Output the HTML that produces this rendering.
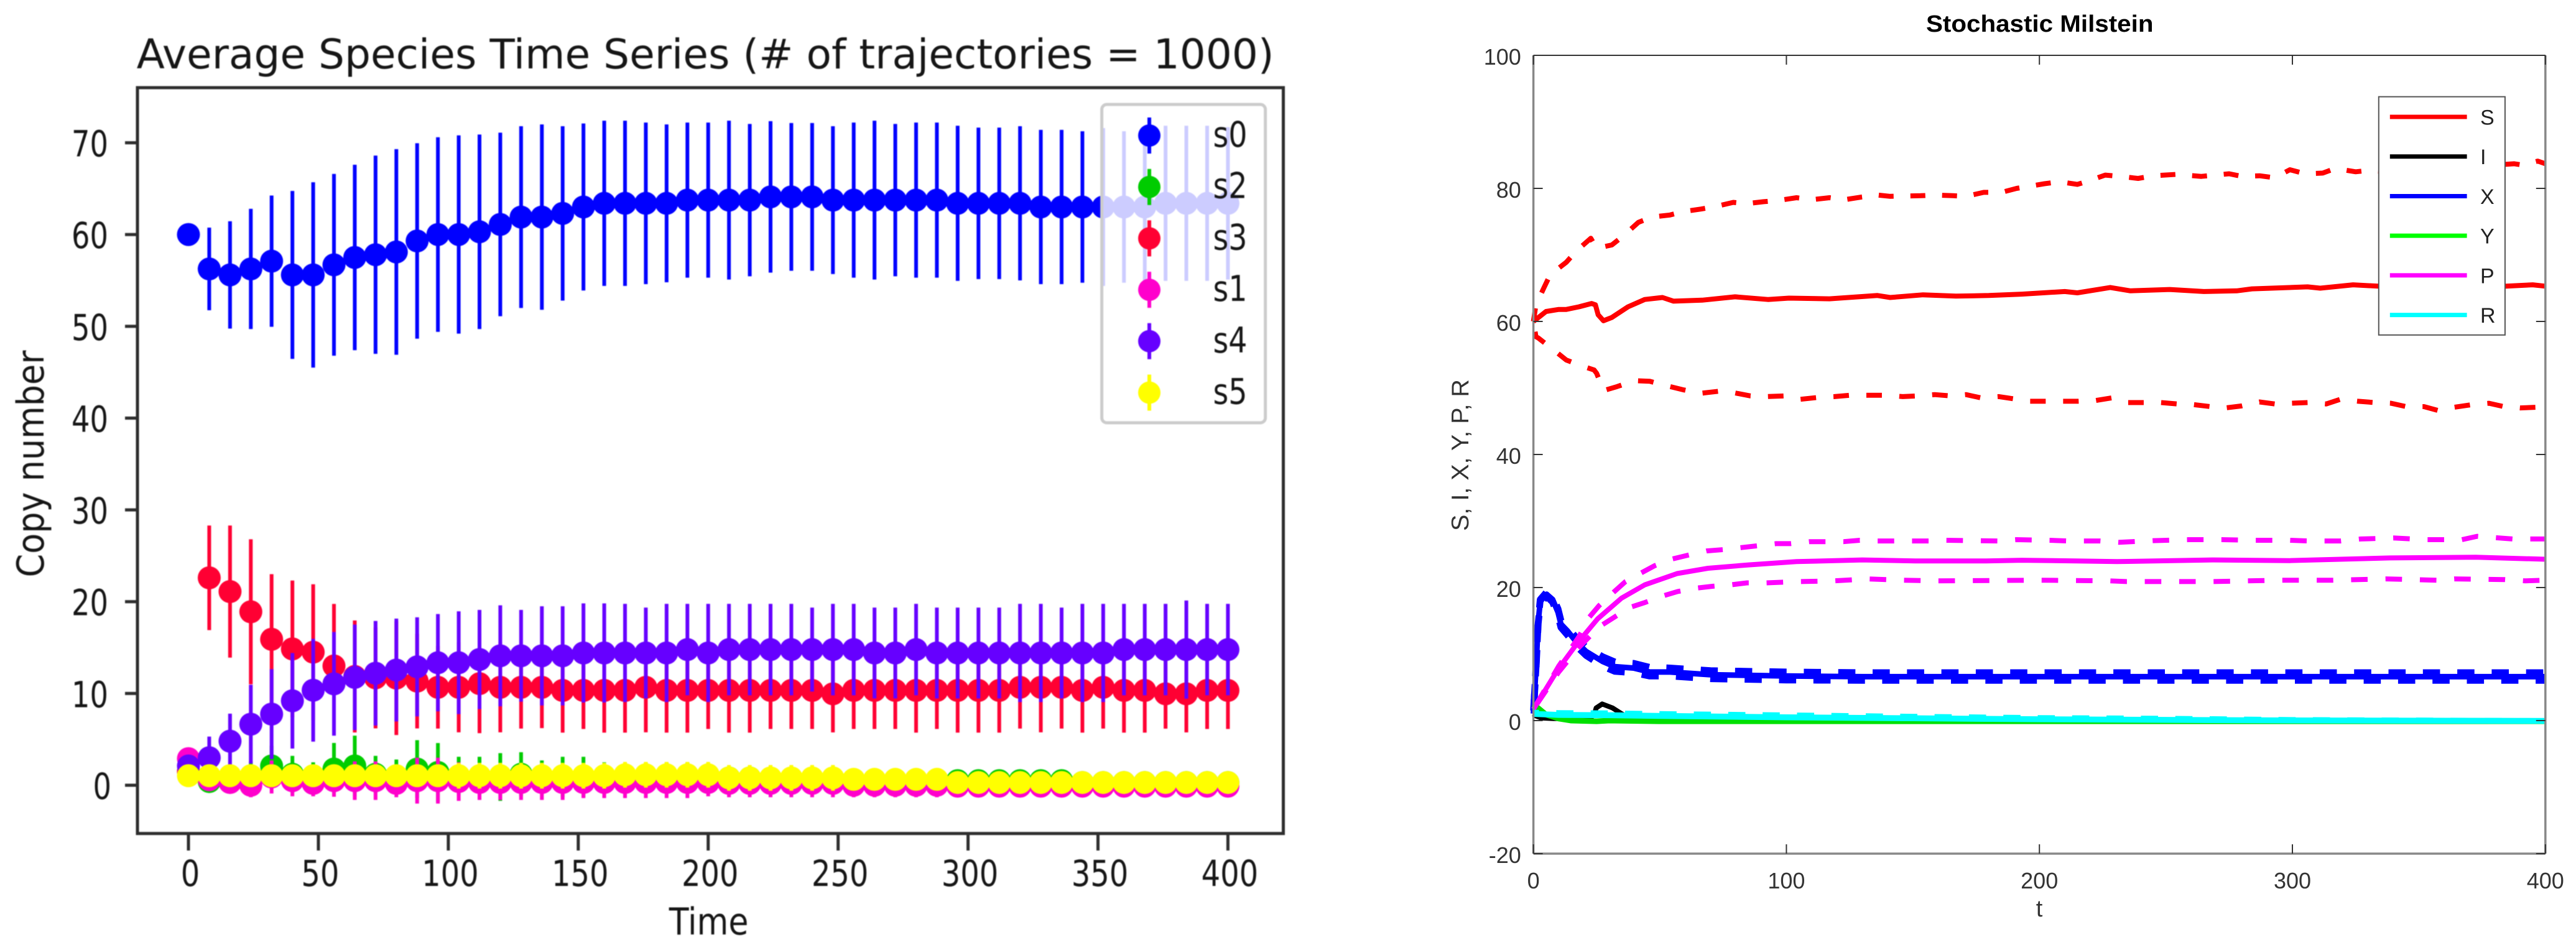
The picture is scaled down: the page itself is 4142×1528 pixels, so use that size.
<!DOCTYPE html>
<html>
<head>
<meta charset="utf-8">
<title>Species time series comparison</title>
<style>
html,body{margin:0;padding:0;background:#fff;}
svg{display:block;}
#left-chart{filter:blur(0.9px);}
</style>
</head>
<body>
<svg id="root" xmlns="http://www.w3.org/2000/svg" width="4142" height="1528" viewBox="0 0 4142 1528">
<rect width="4142" height="1528" fill="#fff"/>
<g id="left-chart"></g>
<g id="right-chart"></g>
</svg>
<script>
/* ---------- LEFT CHART DATA ---------- */
const leftTimes=[0,8,16,24,32,40,48,56,64,72,80,88,96,104,112,120,128,136,144,152,160,168,176,184,192,200,208,216,224,232,240,248,256,264,272,280,288,296,304,312,320,328,336,344,352,360,368,376,384,392,400];
const leftXTicks=[0,50,100,150,200,250,300,350,400];
const leftYTicks=[0,10,20,30,40,50,60,70];
const s0Mean=[60,56.25,55.6,56.25,57.1,55.6,55.6,56.7,57.5,57.8,58.1,59.3,60,60,60.3,61.1,61.9,61.9,62.3,63,63.4,63.4,63.4,63.4,63.75,63.75,63.75,63.75,64.1,64.1,64.1,63.75,63.75,63.75,63.75,63.75,63.75,63.4,63.4,63.4,63.4,63,63,63,63,63,63,63.4,63.4,63.4,63.4];
const s0Sd=[0,4.5,5.85,6.55,7.15,9.15,10.1,9.9,10.1,10.8,11.2,10.65,10.6,10.8,10.6,10,9.9,10.1,9.5,9.1,9,9,8.8,8.6,8.45,8.45,8.65,8.3,8.25,8.05,8.05,8.05,8.45,8.65,8.3,8.45,8.45,8.45,8.25,8.25,8.4,8.4,8.4,8.25,8.6,8.25,8.25,8.45,8.45,8.45,8.3];
const s2Mean=[1.5,0.4,0.6,0.8,2.1,1.2,1,1.76,2.1,1.2,1,1.76,1.4,1,1,0.9,1.2,0.9,0.9,0.9,0.9,0.9,0.9,0.9,0.9,0.8,0.8,0.8,0.7,0.7,0.7,0.7,0.6,0.6,0.6,0.6,0.6,0.5,0.5,0.5,0.5,0.5,0.5,0.3,0.3,0.3,0.3,0.3,0.3,0.3,0.3];
const s2Sd=[0,1.2,1.5,1.8,2.2,2,1.5,2.85,3.3,2,1.8,3.15,3.2,2.1,2.1,2.6,2.4,1.8,2.2,2.2,1.6,1.6,1.6,1.6,1.6,1.2,1.2,1.2,1.2,1.2,1.2,1.2,1,1,1,1,1,1,1,1,1,1,1,0.8,0.8,0.8,0.8,0.8,0.8,0.8,0.8];
const s3Mean=[1.5,22.6,21.1,18.9,15.9,14.85,14.5,13,11.85,11.7,11.67,11.34,10.67,10.67,11.07,10.67,10.67,10.67,10.33,10.33,10.33,10.33,10.67,10.33,10.33,10.33,10.33,10.33,10.33,10.33,10.33,9.96,10.33,10.33,10.33,10.33,10.33,10.33,10.33,10.33,10.67,10.67,10.67,10.33,10.67,10.33,10.33,9.96,9.96,10.33,10.33];
const s3Sd=[0,5.7,7.2,7.9,7.1,7.45,7.4,6.75,6.1,5.5,6.2,5.15,4.5,4.9,5.4,4.9,4.5,4.45,4.6,4.2,4.6,4.6,4.9,4.6,4.6,4.2,4.6,4.6,4.2,4.2,4.2,4.2,4.2,4.2,4.2,4.6,4.2,4.6,4.6,4.6,4.5,4.9,4.5,4.6,4.5,4.6,4.6,3.8,4.2,4.2,4.2];
const s1Mean=[2.9,0.6,0.3,0,0.9,0.5,0.2,0.5,0.5,0.5,0.2,0.5,0.5,0.4,0.3,0.3,0.3,0.3,0.3,0.3,0.3,0.3,0.3,0.3,0.3,0.3,0.2,0.2,0.2,0.2,0.2,0.2,0,0,0,0,0,-0.1,-0.1,-0.1,-0.1,-0.1,-0.1,-0.1,-0.1,-0.1,-0.1,-0.1,-0.1,-0.1,-0.1];
const s1Sd=[0,1,1.2,1.3,1.8,1.7,1.4,1.75,2.1,2.1,1.5,2.5,2.5,2.1,1.9,1.9,1.9,1.9,1.9,1.7,1.7,1.7,1.7,1.7,1.7,1.5,1.5,1.5,1.5,1.5,1.5,1.5,1.3,1.3,1.3,1.3,1.3,1.2,1.2,1.2,1.2,1.2,1.2,1.2,1.2,1.2,1.2,1.2,1.2,1.2,1.2];
const s4Mean=[2.1,3,4.8,6.65,7.75,9.2,10.35,11.05,11.75,12.2,12.55,12.9,13.35,13.35,13.7,14.1,14.1,14.1,14.1,14.41,14.41,14.41,14.41,14.41,14.78,14.41,14.78,14.78,14.78,14.78,14.78,14.78,14.78,14.41,14.41,14.78,14.41,14.41,14.41,14.41,14.41,14.41,14.41,14.41,14.41,14.78,14.78,14.78,14.78,14.78,14.78];
const s4Sd=[0,2.3,3,4.3,4.9,5.2,5.6,5.65,5.75,5.7,5.6,5.4,5.3,5.6,5.4,5.5,5,5.4,5.4,5.4,5.4,5.35,4.95,5.35,4.98,5.35,4.98,4.98,4.98,4.98,4.58,4.98,4.98,4.95,4.95,4.98,4.95,4.95,4.95,4.95,5.35,5.35,4.95,5.35,5.35,4.98,4.98,4.98,5.35,4.98,4.98];
const s5Mean=[1.04,1.04,1.04,1.04,1.04,1.04,1.04,1.04,1.04,1.04,1.04,1.04,1.04,1.04,1.04,1.04,1.04,1.04,1.04,1.04,1.04,1.14,1.14,1.14,1.14,1.14,0.8,0.8,0.8,0.8,0.8,0.8,0.64,0.64,0.64,0.64,0.64,0.3,0.3,0.3,0.3,0.3,0.3,0.3,0.3,0.3,0.3,0.3,0.3,0.3,0.3];
const s5Sd=[0,1,1,1,1,1,1,1,1,1,1,1,1,1.4,1.4,1.4,1.4,1.4,1.4,1.4,1.4,1.4,1.4,1.4,1.4,1.4,1.4,1.4,1.4,1.4,1.4,1.4,1.2,1.2,1.2,1.2,1.2,1,1,1,1,1,1,1,1,1,1,1,1,1,1];

/* ---------- RIGHT CHART DATA ---------- */
const rightXTicks=[0,100,200,300,400];
const rightYTicks=[-20,0,20,40,60,80,100];
const legendRightLabels=['S','I','X','Y','P','R'];
const sMeanT=[0,1,5,10,13,18,23,24.5,25.6,27.7,31,37.4,44,51,55.4,66.7,79.7,92.7,101,117,136,141,154,167,180,193,210,215,228,236,251.5,265,278,284,306,311,324,334,384.5,395,400];
const sMeanV=[60,60.3,61.5,61.8,61.8,62.2,62.7,62.5,61,60.1,60.6,62.2,63.3,63.6,63.05,63.2,63.7,63.3,63.5,63.4,63.9,63.6,64,63.8,63.9,64.1,64.5,64.3,65.1,64.6,64.8,64.5,64.6,64.9,65.2,65,65.5,65.3,65.3,65.5,65.3];
const sUpperT=[0,1,4.2,6.6,13,17,22.7,25,31,36,41.5,47,54,59,66.3,72.3,79,84,91,97,104,110,117,123,129.7,136,141,153,159,166,171,178,185,191,202,208,215,220,226,232,239,245,254,264,275,280,287,293,299,305,312,317,325,330,337,360,387.7,391,397,400];
const sUpperV=[60,62.5,65.1,67,68.9,70.6,72.5,71,71.5,73,74.9,75.7,76,76.5,76.9,77.3,77.9,77.7,78,78.2,78.6,78.3,78.6,78.3,78.7,79,78.8,78.9,79,78.9,78.8,79.4,79.4,80,80.7,81,80.6,81.2,82,81.8,81.5,81.9,82.1,81.8,82.2,81.8,81.9,81.6,82.8,82.2,82.3,83,82.5,82.7,82.5,83,83.7,83.5,84.1,83.7];
const sLowerT=[0,1,2,7.7,13,20,24,25,27.7,33,40,46,53,59.5,66,73,79,85.8,92,99,105.6,113,119,125,132,139.6,146,152,158.6,165,171,177,184,191,196,203,215,222,228.5,235,248,254.4,261,267.6,273.5,280,287,293,306,313.4,319,326,332.6,339,345,352,357.7,364,371,377.7,383.6,390,397,400];
const sLowerV=[60,57.7,57.5,55.8,54.2,53.2,52.7,52.2,49.6,50.2,51.1,51,50.3,49.7,49.2,49.5,49.3,48.8,48.7,48.8,48.3,48.6,48.7,48.9,48.9,48.9,48.7,48.8,49,48.8,49,48.5,48.7,48.3,48,48,48,48.1,48.5,47.8,47.8,47.6,47.5,47.2,47,47.3,47.9,47.6,47.8,47.6,48.3,48,47.8,47.7,47.2,47.2,46.6,47.1,47.5,47.7,47.2,47,47.1,47.1];
const iMeanT=[0,1,3,8,15,22,24,24.8,27.2,31.3,35.4,41,46,54,70,100,200,400];
const iMeanV=[1,0.7,0.4,0.3,0.3,0.4,0.8,1.9,2.5,1.9,0.9,0.45,0.3,0.4,0.3,0.2,0.05,0];
const xT=[0,1.1,1.9,2.7,5.2,7.6,9.7,10.9,13.4,17,20.8,27.3,32.2,39.6,46,54,70,100,130,160,200,250,300,350,400];
const xMean=[1.05,8.5,14.8,17.9,19,18.2,16.3,14.5,13.5,11.8,10.4,8.9,8.1,7.9,7.3,7.3,6.9,6.7,6.6,6.6,6.6,6.6,6.6,6.6,6.6];
const xUpper=[1.05,8.6,15,18.2,19.3,18.6,16.8,15,14.1,12.4,11,9.6,8.8,8.6,8,7.9,7.5,7.3,7.2,7.2,7.2,7.2,7.2,7.2,7.2];
const xLower=[1.05,8.4,14.6,17.6,18.7,17.8,15.8,14,12.9,11.2,9.8,8.2,7.4,7.2,6.7,6.7,6.3,6.1,6.05,6.05,6.05,6.05,6.05,6.05,6.05];
const yMeanT=[0,1.5,5,10,15,25,30,50,400];
const yMeanV=[2.5,2,0.9,0.3,0,-0.1,0,-0.1,-0.1];
const pMeanT=[0,9.7,17.5,25.4,34.8,44,56.8,69,85,104,130,151,179,193,214.5,230.7,269,299,338.5,372.5,400];
const pMeanV=[1.7,7.7,11.7,15.3,18.4,20.4,22.1,22.9,23.4,23.9,24.15,24,24,24.1,24,23.9,24.15,24.05,24.45,24.55,24.25];
const pUpperT=[0,10,18,22,26,31.7,36.4,42.6,48,55,61.5,68.5,75,82,88,96,101.5,109,122.6,129,136,156.6,163,184,191,204,211,224,231.5,245,259,272,285,299,306,319,327,340,353,367,373,387,400];
const pUpperV=[1.7,8.2,12.6,15.5,17.3,19.3,20.9,22.2,23.3,24.3,24.9,25.5,25.7,26,26.25,26.6,26.6,26.9,26.9,27.1,27,27,27.1,27,27.2,27.1,27,27,26.8,27.05,27.2,27.2,27.1,27.1,27,27,27.3,27.45,27.2,27.2,27.7,27.3,27.3];
const pLowerT=[0,10,18,26,31.8,38,43.7,50.8,57,64,71,78,84.4,92,105,118.7,132,146,160,200,228,234.4,268,296,316,337,357,364,384,392,400];
const pLowerV=[1.7,7.3,11,14.1,15.5,17,17.7,18.7,19.4,19.9,20.2,20.4,20.7,20.7,20.9,21,21.3,21.1,21,21.1,21,20.9,20.9,21.1,21.1,21.3,21.1,21.3,21.2,21,21.1];
const rMeanT=[0,10,30,50,100,150,200,250,300,400];
const rMeanV=[1,0.85,0.8,0.7,0.5,0.35,0.2,0.1,0.03,-0.05];
const rUpper=[1.2,1.15,1.1,1,0.8,0.6,0.4,0.3,0.1,-0.05];

/* ---------- HELPERS ---------- */
const NS='http://www.w3.org/2000/svg';
function add(parent,tag,attrs,name,text){
  const el=document.createElementNS(NS,tag);
  for(const k in attrs){el.setAttribute(k,attrs[k]);}
  
  
  if(text!==undefined){el.textContent=text;}
  parent.appendChild(el);
  return el;
}
function scale(d0,d1,r0,r1){return v=>r0+(v-d0)*(r1-r0)/(d1-d0);}

/* ---------- LEFT CHART ---------- */
const L=document.getElementById('left-chart');
const lx=scale(0,400,303,1974.4);
const ly=scale(0,70,1263,229.6);
const DEJAVU='"DejaVu Sans",sans-serif';
const INK='#161616';
const SPINE='#2e2e2e';
const leftSeries=[
 ['s0','#0000ff',s0Mean,s0Sd],
 ['s2','#00cc00',s2Mean,s2Sd],
 ['s3','#ff0033',s3Mean,s3Sd],
 ['s1','#ff00cc',s1Mean,s1Sd],
 ['s4','#6600ff',s4Mean,s4Sd],
 ['s5','#ffff00',s5Mean,s5Sd]
];
leftSeries.forEach(function(s){
  const g=add(L,'g',{},'series-'+s[0]);
  leftTimes.forEach(function(t,i){
    if(s[3][i]>0){
      add(g,'line',{x1:lx(t),x2:lx(t),y1:ly(s[2][i]-s[3][i]),y2:ly(s[2][i]+s[3][i]),stroke:s[1],'stroke-width':6},'error-bar-'+s[0]);
    }
    add(g,'circle',{cx:lx(t),cy:ly(s[2][i]),r:18.5,fill:s[1]},'point-'+s[0]);
  });
});
add(L,'line',{x1:221,x2:221,y1:138.5,y2:1343,stroke:SPINE,'stroke-width':5},'left-spine');
add(L,'line',{x1:2063.5,x2:2063.5,y1:138.5,y2:1343,stroke:SPINE,'stroke-width':5},'right-spine');
add(L,'line',{x1:218.5,x2:2066,y1:141,y2:141,stroke:SPINE,'stroke-width':5},'top-spine');
add(L,'line',{x1:218.5,x2:2066,y1:1340.6,y2:1340.6,stroke:SPINE,'stroke-width':5},'bottom-spine');
leftXTicks.forEach(function(t){
  add(L,'line',{x1:lx(t),x2:lx(t),y1:1340,y2:1368,stroke:SPINE,'stroke-width':5},'x-tick');
  const lab=String(t);
  add(L,'text',{x:lx(t)+3,y:1425,'text-anchor':'middle','font-family':DEJAVU,'font-size':58,fill:INK,textLength:30.5*lab.length,lengthAdjust:'spacingAndGlyphs'},'x-tick-label',lab);
});
leftYTicks.forEach(function(v){
  add(L,'line',{x1:201,x2:221,y1:ly(v),y2:ly(v),stroke:SPINE,'stroke-width':5},'y-tick');
  const lab=String(v);
  add(L,'text',{x:v===0?179:174,y:ly(v)+22,'text-anchor':'end','font-family':DEJAVU,'font-size':58,fill:INK,textLength:29.5*lab.length,lengthAdjust:'spacingAndGlyphs'},'y-tick-label',lab);
});
add(L,'text',{x:219.6,y:110,'font-family':DEJAVU,'font-size':66,fill:INK,textLength:1829,lengthAdjust:'spacingAndGlyphs'},'chart-title','Average Species Time Series (# of trajectories = 1000)');
add(L,'text',{x:1139.6,y:1503,'text-anchor':'middle','font-family':DEJAVU,'font-size':60,fill:INK,textLength:127.6,lengthAdjust:'spacingAndGlyphs'},'x-axis-title','Time');
add(L,'text',{x:0,y:0,transform:'translate(70,746) rotate(-90)','text-anchor':'middle','font-family':DEJAVU,'font-size':60,fill:INK,textLength:365,lengthAdjust:'spacingAndGlyphs'},'y-axis-title','Copy number');
const leftLegend=add(L,'g',{},'legend');
add(leftLegend,'rect',{x:1771.6,y:168,width:263,height:512,rx:8,fill:'rgba(255,255,255,0.8)',stroke:'#cccccc','stroke-width':5},'legend-box');
leftSeries.forEach(function(s,i){
  const cy=218+i*82.7;
  add(leftLegend,'line',{x1:1848,x2:1848,y1:cy-29,y2:cy+29,stroke:s[1],'stroke-width':6},'legend-error-bar-'+s[0]);
  add(leftLegend,'circle',{cx:1848,cy:cy,r:18,fill:s[1]},'legend-marker-'+s[0]);
  add(leftLegend,'text',{x:1950.5,y:cy+18,'font-family':DEJAVU,'font-size':57,fill:INK,textLength:55,lengthAdjust:'spacingAndGlyphs'},'legend-label-'+s[0],s[0]);
});

/* ---------- RIGHT CHART ---------- */
const R=document.getElementById('right-chart');
const rx=scale(0,400,2465.6,4092.8);
const ry=scale(-20,100,1373,89);
const LIB='"Liberation Sans",sans-serif';
function pathOf(ts,vs){return ts.map((t,i)=>(i?'L':'M')+rx(t).toFixed(1)+' '+ry(vs[i]).toFixed(1)).join(' ');}
function curve(ts,vs,color,name,width){
  return add(R,'path',{d:pathOf(ts,vs),fill:'none',stroke:color,'stroke-width':width||8.5,'stroke-linejoin':'round'},name);
}
/* Phase a dashed curve so that one dash starts at the given pixel x. */
function dash(path,on,off,startX){
  const total=path.getTotalLength();
  let lo=0,hi=total;
  for(let k=0;k<30;k++){
    const mid=(lo+hi)/2;
    if(path.getPointAtLength(mid).x<startX){lo=mid;}else{hi=mid;}
  }
  const period=on+off;
  path.setAttribute('stroke-dasharray',on+' '+off);
  path.setAttribute('stroke-dashoffset',(period-(lo%period))%period);
}
dash(curve(sUpperT,sUpperV,'#ff0000','s-upper-dashed',8),24,27,3674.6);
dash(curve(sLowerT,sLowerV,'#ff0000','s-lower-dashed',8),25,28,3685.4);
curve(sMeanT,sMeanV,'#ff0000','s-mean-line',8);
curve(iMeanT,iMeanV,'#000000','i-mean-line',8);
curve(xT,xMean,'#0000ff','x-mean-line',9);
dash(curve(xT,xUpper,'#0000ff','x-upper-dashed',11),27.6,27.7,3674.6);
dash(curve(xT,xLower,'#0000ff','x-lower-dashed',11),27.6,27.7,3690);
curve(yMeanT,yMeanV,'#00e000','y-mean-line',9);
dash(curve(pUpperT,pUpperV,'#ff00ff','p-upper-dashed',8),26.6,28.7,3682.4);
dash(curve(pLowerT,pLowerV,'#ff00ff','p-lower-dashed',8),26.6,28.7,3614.5);
curve(pMeanT,pMeanV,'#ff00ff','p-mean-line',8);
curve(rMeanT,rMeanV,'#00ffff','r-mean-line',9.5);
dash(curve(rMeanT,rUpper,'#00ffff','r-upper-dashed',9),27.6,27.7,3000);

add(R,'line',{x1:2465.6,x2:4092.8,y1:89,y2:89,stroke:'#333','stroke-width':2},'top-spine');
add(R,'line',{x1:2465.6,x2:2465.6,y1:89,y2:1373,stroke:'#888','stroke-width':3.5},'left-spine');
add(R,'line',{x1:4092.8,x2:4092.8,y1:89,y2:1373,stroke:'#888','stroke-width':3.5},'right-spine');
add(R,'line',{x1:2465.6,x2:4092.8,y1:1373,y2:1373,stroke:'#888','stroke-width':3.5},'bottom-spine');
rightXTicks.forEach(function(t){
  add(R,'line',{x1:rx(t),x2:rx(t),y1:1373,y2:1358,stroke:'#333','stroke-width':2},'x-tick-bottom');
  add(R,'line',{x1:rx(t),x2:rx(t),y1:89,y2:104,stroke:'#333','stroke-width':2},'x-tick-top');
  add(R,'text',{x:rx(t),y:1429,'text-anchor':'middle','font-family':LIB,'font-size':36,fill:'#333'},'x-tick-label',String(t));
});
rightYTicks.forEach(function(v){
  add(R,'line',{x1:2465.6,x2:2480.6,y1:ry(v),y2:ry(v),stroke:'#333','stroke-width':2},'y-tick-left');
  add(R,'line',{x1:4092.8,x2:4077.8,y1:ry(v),y2:ry(v),stroke:'#333','stroke-width':2},'y-tick-right');
  add(R,'text',{x:2445.8,y:ry(v)+15,'text-anchor':'end','font-family':LIB,'font-size':36,fill:'#333'},'y-tick-label',String(v));
});
add(R,'text',{x:3097,y:51,'font-family':LIB,'font-weight':'bold','font-size':38,fill:'#000',textLength:365.5,lengthAdjust:'spacingAndGlyphs'},'chart-title','Stochastic Milstein');
add(R,'text',{x:3279,y:1474,'text-anchor':'middle','font-family':LIB,'font-size':38,fill:'#333'},'x-axis-title','t');
add(R,'text',{x:0,y:0,transform:'translate(2361,732) rotate(-90)','text-anchor':'middle','font-family':LIB,'font-size':39,fill:'#333',textLength:244,lengthAdjust:'spacingAndGlyphs'},'y-axis-title','S, I, X, Y, P, R');
const rightLegend=add(R,'g',{},'legend');
add(rightLegend,'rect',{x:3824.8,y:155.6,width:203.1,height:383.2,fill:'#fff',stroke:'#555','stroke-width':2},'legend-box');
const legendColors=['#ff0000','#000000','#0000ff','#00ff00','#ff00ff','#00ffff'];
legendRightLabels.forEach(function(lab,i){
  const cy=188+i*63.72;
  add(rightLegend,'line',{x1:3842.8,x2:3966.6,y1:cy,y2:cy,stroke:legendColors[i],'stroke-width':7},'legend-line-'+lab);
  add(rightLegend,'text',{x:3988,y:cy+12.5,'font-family':LIB,'font-size':34,fill:'#222'},'legend-label-'+lab,lab);
});
</script>
</body>
</html>
